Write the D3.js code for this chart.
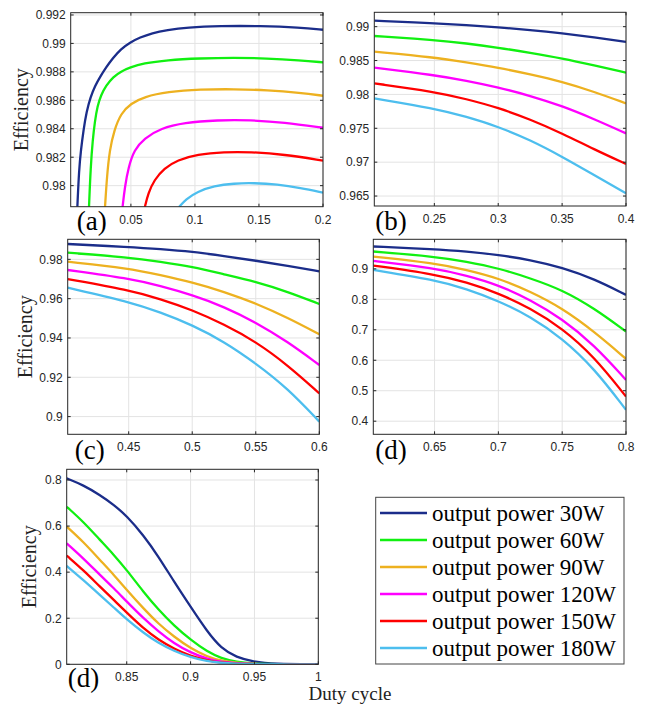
<!DOCTYPE html>
<html>
<head>
<meta charset="utf-8">
<script src="https://cdn.jsdelivr.net/npm/d3@7"></script>
<style>
  body { margin: 0; background: #fff; }
  svg { display: block; }
  .tick { font-family: "Liberation Sans", Arial, sans-serif; font-size: 12px; fill: #262626; }
  .serif { font-family: "Liberation Serif", "Times New Roman", serif; }
</style>
</head>
<body>
<svg id="fig" width="647" height="705"></svg>
<script>
// series
var names = ["output power 30W", "output power 60W", "output power 90W",
             "output power 120W", "output power 150W", "output power 180W"];
var colors = ["#1b2d8a", "#11f011", "#edb120", "#ff00ff", "#ff0000", "#4dbeee"];

// (a) duty 0 - 0.2, each curve starts at a different duty
var aX = [
  [0.0082,0.0095,0.0110,0.0130,0.0153,0.0185,0.0220,0.0259,0.0306,0.0360,0.0423,0.0493,0.0571,0.0665,0.0782,0.0938,0.1196,0.1508,0.1820,0.2],
  [0.0173,0.0186,0.0202,0.0218,0.0239,0.0267,0.0306,0.0363,0.0423,0.0493,0.0597,0.0780,0.1040,0.1300,0.1560,0.1820,0.2],
  [0.0298,0.0313,0.0334,0.0370,0.0422,0.05,0.0604,0.0785,0.1045,0.1305,0.1564,0.1824,0.2],
  [0.0435,0.0453,0.0482,0.0526,0.0604,0.0734,0.0915,0.1175,0.1434,0.1694,0.2],
  [0.0609,0.0635,0.0682,0.076,0.0863,0.1019,0.1227,0.1434,0.1694,0.2],
  [0.0876,0.0928,0.1019,0.1149,0.1305,0.146,0.1642,0.1824,0.2]
];
var aY = [
  [0.97852,0.98110,0.98251,0.98391,0.98518,0.98623,0.98701,0.98764,0.98831,0.98898,0.98961,0.99007,0.99042,0.99073,0.99094,0.99112,0.99123,0.99123,0.99112,0.99096],
  [0.97852,0.98133,0.98321,0.98448,0.98560,0.98637,0.98704,0.98766,0.98803,0.98831,0.98860,0.98883,0.98895,0.98900,0.98895,0.98881,0.98867],
  [0.9785,0.98063,0.98251,0.98391,0.98508,0.98578,0.98625,0.9866,0.98677,0.98679,0.98672,0.98653,0.98632],
  [0.9785,0.97993,0.98133,0.98251,0.98333,0.98403,0.98443,0.98461,0.98461,0.98445,0.98407],
  [0.9785,0.97946,0.9804,0.98122,0.9818,0.9822,0.98237,0.98237,0.9822,0.98176],
  [0.9785,0.97904,0.97958,0.97998,0.98016,0.98019,0.98009,0.97984,0.97951]
];

// (b) duty 0.2 - 0.4
var bX = [0.203,0.25,0.275,0.3,0.325,0.35,0.375,0.4];
var bY = [
  [0.99089,0.99049,0.99025,0.9899,0.98951,0.98902,0.98843,0.98774],
  [0.98862,0.98803,0.98754,0.9869,0.98616,0.98533,0.98429,0.98321],
  [0.98631,0.98547,0.98473,0.98395,0.98296,0.98188,0.9804,0.97868],
  [0.98395,0.98286,0.98203,0.98104,0.97981,0.97829,0.97637,0.97425],
  [0.98163,0.9804,0.97932,0.97804,0.97632,0.97425,0.97189,0.96973],
  [0.97942,0.97794,0.97671,0.97524,0.97327,0.97081,0.9681,0.9654]
];

// (c) duty 0.4 - 0.6
var cX = [0.402,0.45,0.475,0.5,0.525,0.55,0.575,0.6];
var cY = [
  [0.9878,0.98627,0.98525,0.9839,0.9817,0.97932,0.97678,0.9739],
  [0.98339,0.98102,0.97881,0.97627,0.97237,0.96864,0.96356,0.95729],
  [0.97881,0.97542,0.97203,0.96831,0.96356,0.95763,0.95034,0.94186],
  [0.97458,0.97034,0.96644,0.96186,0.95593,0.94797,0.93814,0.92627],
  [0.96997,0.96441,0.95983,0.95424,0.94695,0.93814,0.92627,0.91186],
  [0.96559,0.95847,0.95305,0.94661,0.93814,0.92712,0.91441,0.89746]
];

// (d) duty 0.6 - 0.8
var dX = [0.602,0.65,0.675,0.7,0.725,0.75,0.775,0.8];
var dY = [
  [0.9733,0.96455,0.95689,0.94595,0.92954,0.90438,0.86718,0.81466],
  [0.95689,0.94048,0.92407,0.90219,0.86937,0.83107,0.7709,0.69431],
  [0.94048,0.9186,0.89672,0.86937,0.8256,0.7709,0.69431,0.60459],
  [0.92626,0.90219,0.87812,0.84748,0.79825,0.73588,0.65055,0.53567],
  [0.91094,0.88249,0.85624,0.82013,0.7709,0.70525,0.61225,0.48096],
  [0.89672,0.86389,0.83435,0.79497,0.74354,0.67243,0.57396,0.4372]
];

// (d) bottom, duty 0.8 - 1
var eX = [0.803,0.816,0.829,0.84,0.85,0.863,0.875,0.887,0.9,0.913,0.924,0.936,0.949,0.965,1.0];
var eY = [
  [0.807,0.778,0.735,0.692,0.644,0.561,0.467,0.359,0.250,0.142,0.069,0.030,0.012,0.001,0],
  [0.684,0.619,0.540,0.475,0.409,0.315,0.236,0.168,0.106,0.055,0.026,0.010,0.003,0,0],
  [0.598,0.532,0.453,0.388,0.323,0.243,0.175,0.120,0.069,0.033,0.015,0.006,0.001,0,0],
  [0.525,0.460,0.388,0.330,0.272,0.200,0.142,0.091,0.051,0.023,0.010,0.004,0.001,0,0],
  [0.472,0.409,0.337,0.279,0.224,0.156,0.106,0.068,0.036,0.017,0.007,0.003,0.001,0,0],
  [0.427,0.366,0.301,0.246,0.195,0.137,0.091,0.058,0.030,0.013,0.006,0.003,0.001,0,0]
];

// tick values
var aXt = [0.05,0.1,0.15,0.2],     aYt = [0.98,0.982,0.984,0.986,0.988,0.99,0.992];
var bXt = [0.25,0.3,0.35,0.4],     bYt = [0.965,0.97,0.975,0.98,0.985,0.99];
var cXt = [0.45,0.5,0.55,0.6],     cYt = [0.9,0.92,0.94,0.96,0.98];
var dXt = [0.65,0.7,0.75,0.8],     dYt = [0.4,0.5,0.6,0.7,0.8,0.9];
var eXt = [0.85,0.9,0.95,1],       eYt = [0,0.2,0.4,0.6,0.8];

var svg = d3.select("#fig");
var axisColor = "#262626";
var fmt = function(v) { return String(+v.toFixed(3)); };

function panel(id, box, xdom, ydom, xt, yt, xs, ys, tag, ylab) {
  var x = d3.scaleLinear().domain(xdom).range([box.l, box.r]);
  var y = d3.scaleLinear().domain(ydom).range([box.b, box.t]);
  var g = svg.append("g");

  // grid
  g.selectAll(".gx").data(xt).enter().append("line")
    .attr("x1", function(d) { return x(d); }).attr("x2", function(d) { return x(d); })
    .attr("y1", box.t).attr("y2", box.b)
    .attr("stroke", "#e3e3e3").attr("stroke-width", 1);
  g.selectAll(".gy").data(yt).enter().append("line")
    .attr("x1", box.l).attr("x2", box.r)
    .attr("y1", function(d) { return y(d); }).attr("y2", function(d) { return y(d); })
    .attr("stroke", "#e3e3e3").attr("stroke-width", 1);

  // curves
  svg.append("clipPath").attr("id", "clip" + id).append("rect")
    .attr("x", box.l).attr("y", box.t).attr("width", box.r - box.l).attr("height", box.b - box.t);
  var line = d3.line().curve(d3.curveBasis)
    .x(function(d) { return x(d[0]); }).y(function(d) { return y(d[1]); });
  var cg = g.append("g").attr("clip-path", "url(#clip" + id + ")");
  ys.forEach(function(s, i) {
    var xv = Array.isArray(xs[0]) ? xs[i] : xs;
    cg.append("path").datum(d3.zip(xv, s))
      .attr("d", line).attr("fill", "none")
      .attr("stroke", colors[i]).attr("stroke-width", 2.3);
  });

  // box + inward ticks
  g.append("rect").attr("x", box.l).attr("y", box.t)
    .attr("width", box.r - box.l).attr("height", box.b - box.t)
    .attr("fill", "none").attr("stroke", axisColor).attr("stroke-width", 1);
  var tk = 3;
  xt.forEach(function(d) {
    g.append("line").attr("x1", x(d)).attr("x2", x(d)).attr("y1", box.b).attr("y2", box.b - tk).attr("stroke", axisColor);
    g.append("line").attr("x1", x(d)).attr("x2", x(d)).attr("y1", box.t).attr("y2", box.t + tk).attr("stroke", axisColor);
  });
  yt.forEach(function(d) {
    g.append("line").attr("x1", box.l).attr("x2", box.l + tk).attr("y1", y(d)).attr("y2", y(d)).attr("stroke", axisColor);
    g.append("line").attr("x1", box.r).attr("x2", box.r - tk).attr("y1", y(d)).attr("y2", y(d)).attr("stroke", axisColor);
  });

  // tick labels
  g.selectAll(".xl").data(xt).enter().append("text").attr("class", "tick")
    .attr("x", function(d) { return x(d); }).attr("y", box.b + 17)
    .attr("text-anchor", "middle")
    .text(fmt);
  g.selectAll(".yl").data(yt).enter().append("text").attr("class", "tick")
    .attr("x", box.l - 5).attr("y", function(d) { return y(d) + 4.3; })
    .attr("text-anchor", "end")
    .text(fmt);

  // panel tag
  g.append("text").attr("class", "serif").attr("x", box.l + tag.dx).attr("y", box.b + tag.dy)
    .attr("font-size", 27).attr("fill", "#000")
    .text(tag.t);

  if (ylab) {
    g.append("text").attr("class", "serif")
      .attr("transform", "translate(" + ylab + "," + ((box.t + box.b) / 2) + ") rotate(-90)")
      .attr("text-anchor", "middle")
      .attr("font-size", 20).attr("fill", "#222")
      .text("Efficiency");
  }
}

panel("a", {l: 70.7, r: 323, t: 12.7, b: 206.7}, [0.003, 0.2], [0.97852, 0.99216], aXt, aYt, aX, aY, {t: "(a)", dx: 6, dy: 23}, 28);
panel("b", {l: 374.3, r: 626, t: 12.3, b: 206}, [0.203, 0.4], [0.96353, 0.99212], bXt, bYt, bX, bY, {t: "(b)", dx: 1, dy: 24}, null);
panel("c", {l: 67.7, r: 319.3, t: 239.3, b: 434.3}, [0.402, 0.6], [0.891, 0.9902], cXt, cYt, cX, cY, {t: "(c)", dx: 7, dy: 25}, 32);
panel("d", {l: 373.3, r: 626, t: 239.3, b: 434.3}, [0.602, 0.8], [0.357, 0.997], dXt, dYt, dX, dY, {t: "(d)", dx: 2, dy: 25}, null);
panel("e", {l: 66.7, r: 318.3, t: 469.3, b: 664.3}, [0.803, 1], [0, 0.8465], eXt, eYt, eX, eY, {t: "(d)", dx: 1, dy: 23}, 36);

svg.append("text").attr("class", "serif").attr("x", 350).attr("y", 700).attr("text-anchor", "middle")
  .attr("font-size", 19).attr("fill", "#222")
  .text("Duty cycle");

// legend
var lg = svg.append("g");
lg.append("rect").attr("x", 375.7).attr("y", 497.3).attr("width", 248.3).attr("height", 166.7)
  .attr("fill", "#fff").attr("stroke", "#444").attr("stroke-width", 1);
names.forEach(function(n, i) {
  var yy = 513 + i * 27;
  lg.append("line").attr("x1", 380).attr("x2", 427).attr("y1", yy).attr("y2", yy)
    .attr("stroke", colors[i]).attr("stroke-width", 2.6);
  lg.append("text").attr("class", "serif").attr("x", 432).attr("y", yy + 7.5)
    .attr("font-size", 23).attr("fill", "#000")
    .text(n);
});
</script>
</body>
</html>
